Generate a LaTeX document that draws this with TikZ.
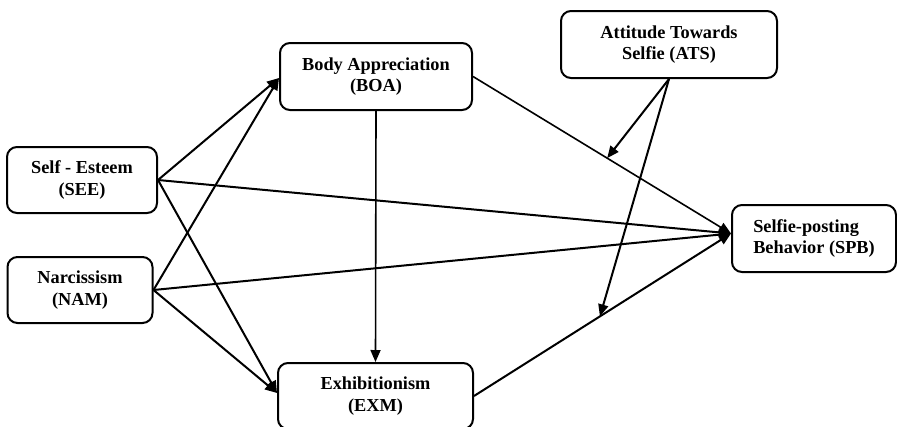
\documentclass[tikz,border=0pt]{standalone}
\usepackage{fontspec}
\setmainfont{Liberation Serif}
\usetikzlibrary{arrows.meta,calc}
\begin{document}
\begin{tikzpicture}[x=1pt,y=-1pt,
  box/.style={draw,line width=2pt,rounded corners=10pt,align=center,
    font=\bfseries\fontsize{18.3}{21.8}\selectfont,inner sep=0pt},
  arr/.style={-{Triangle[length=12pt,width=10pt]},line width=2pt},
  lightarr/.style={-{Triangle[length=12pt,width=10pt]},line width=1.6pt}
]
\useasboundingbox (0,0) rectangle (897,426);
\node[box,minimum width=150pt,minimum height=66pt] (see) at (82,180) {Self - Esteem\\(SEE)};
\node[box,minimum width=145pt,minimum height=66pt] (nam) at (80,290) {Narcissism\\(NAM)};
\node[box,minimum width=192pt,minimum height=67pt] (boa) at (376,76.5) {Body Appreciation\\(BOA)};
\node[box,minimum width=216pt,minimum height=67pt] (ats) at (669,44.5) {Attitude Towards\\Selfie (ATS)};
\node[box,minimum width=164pt,minimum height=67pt,align=left] (spb) at (814,238.5) {Selfie-posting\\Behavior (SPB)};
\node[box,minimum width=195pt,minimum height=66pt] (exm) at (375.5,396) {Exhibitionism\\(EXM)};

\coordinate (boain) at ($(boa.west)+(0,1.5)$);
\coordinate (spbin) at ($(spb.west)+(0,-5)$);
\coordinate (exmin) at ($(exm.west)+(0,-3)$);
\coordinate (m1) at ($(boa.east)!0.52!(spbin)$);
\coordinate (m2) at ($(exm.east)!0.49!(spbin)$);

\draw[arr] (see.east) -- (boain);
\draw[arr] (nam.east) -- (boain);
\draw[arr] (see.east) -- (exmin);
\draw[arr] (nam.east) -- (exmin);
\draw[arr] (see.east) -- (spbin);
\draw[arr] (nam.east) -- (spbin);
\draw[lightarr] (boa.east) -- (spbin);
\draw[lightarr] (boa.south) -- (exm.north);
\draw[arr] (exm.east) -- (spbin);
\draw[arr] (ats.south) -- (m1);
\draw[arr] (ats.south) -- (m2);
\end{tikzpicture}
\end{document}
